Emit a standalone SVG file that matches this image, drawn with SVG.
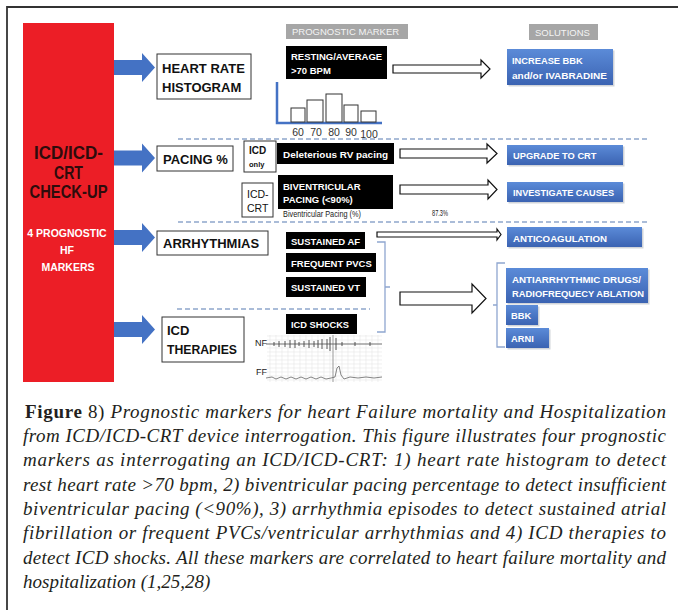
<svg xmlns="http://www.w3.org/2000/svg" width="678" height="610" viewBox="0 0 678 610">
<defs>
<linearGradient id="bg" x1="0" y1="0" x2="0" y2="1">
<stop offset="0" stop-color="#5b8bd8"/>
<stop offset="1" stop-color="#3b63b2"/>
</linearGradient>
<style>
.sans{font-family:"Liberation Sans",Arial,sans-serif}
.lbl{font-family:"Liberation Sans",Arial,sans-serif;font-weight:bold;font-size:13px;fill:#111}
.wb{font-family:"Liberation Sans",Arial,sans-serif;font-weight:bold;font-size:9.5px;fill:#fff}
.bt{font-family:"Liberation Sans",Arial,sans-serif;font-weight:bold;font-size:9.3px;fill:#fff}
.box{fill:#fff;stroke:#333;stroke-width:1}
.blk{fill:#000}
.blue{fill:url(#bg)}
.shadow{fill:#9aa0aa;opacity:0.45}
.hdr{fill:#a6a6a6}
.hdrt{font-family:"Liberation Sans",Arial,sans-serif;font-size:9.5px;fill:#f4f4f4}
.fat{fill:#4472c4}
.hol{fill:#fff;stroke:#111;stroke-width:1.2}
.dash{stroke:#8fa6cc;stroke-width:1.3;stroke-dasharray:5 3;fill:none}
.brk{stroke:#8fa6d0;stroke-width:1.3;fill:none}
.cap{font-family:"Liberation Serif","Times New Roman",serif;font-size:19px;font-style:italic;fill:#231f20}
.grid{stroke:#e6e6e6;stroke-width:0.6}
</style>
</defs>
<rect width="678" height="610" fill="#fff"/>
<!-- frame -->
<path d="M7,610 V7 H678" fill="none" stroke="#333" stroke-width="1.8"/>

<!-- left red node -->
<g id="checkup">
<rect x="23" y="23" width="91" height="359" fill="#ec1e26"/>
<g class="sans" font-weight="bold" font-size="19" fill="#2e0c0c" text-anchor="middle">
<text x="68.5" y="159" textLength="69" lengthAdjust="spacingAndGlyphs">ICD/ICD-</text>
<text x="68.5" y="178.5" textLength="29" lengthAdjust="spacingAndGlyphs">CRT</text>
<text x="68.5" y="198" textLength="78" lengthAdjust="spacingAndGlyphs">CHECK-UP</text>
</g>
<g class="sans" font-weight="bold" font-size="10.5" fill="#fff" text-anchor="middle">
<text x="67" y="237">4 PROGNOSTIC</text>
<text x="67" y="254">HF</text>
<text x="68" y="271">MARKERS</text>
</g>
</g>

<!-- headers -->
<g id="hdr-prognostic">
<rect class="hdr" x="286" y="24" width="122" height="15"/>
<text class="hdrt" x="292" y="35">PROGNOSTIC MARKER</text>
</g>
<g id="hdr-solutions">
<rect class="hdr" x="529" y="24" width="69" height="16"/>
<text class="hdrt" x="535" y="35.5">SOLUTIONS</text>
</g>

<!-- category nodes -->
<g id="heart-rate-histogram">
<rect class="box" x="157" y="54" width="94" height="45"/>
<text class="lbl" x="162" y="73">HEART RATE</text>
<text class="lbl" x="162" y="92">HISTOGRAM</text>
</g>
<g id="pacing">
<rect class="box" x="157" y="146" width="76" height="25"/>
<text class="lbl" x="163" y="163.5">PACING %</text>
</g>
<g id="arrhythmias">
<rect class="box" x="157" y="231" width="111" height="24"/>
<text class="lbl" x="163" y="248">ARRHYTHMIAS</text>
</g>
<g id="icd-therapies">
<rect class="box" x="162" y="317" width="82" height="45"/>
<text class="lbl" x="167" y="335">ICD</text>
<text class="lbl" x="167" y="354" textLength="70" lengthAdjust="spacingAndGlyphs">THERAPIES</text>
</g>

<!-- prognostic markers -->
<g id="resting">
<rect class="blk" x="286" y="46" width="101" height="33"/>
<text class="wb" x="291" y="60">RESTING/AVERAGE</text>
<text class="wb" x="291" y="74">&gt;70 BPM</text>
</g>
<g id="histogram">
<path d="M277,82 V123 H382" fill="none" stroke="#4472c4" stroke-width="2.5"/>
<g fill="#fff" stroke="#333" stroke-width="1">
<rect x="291" y="108" width="14" height="14"/>
<rect x="307" y="100" width="16" height="22"/>
<rect x="326" y="94" width="16" height="28"/>
<rect x="344" y="105" width="14" height="17"/>
<rect x="361" y="111" width="15" height="11"/>
</g>
<g class="sans" font-size="10.5" fill="#333" text-anchor="middle">
<text x="298" y="136">60</text>
<text x="316" y="136">70</text>
<text x="334" y="136">80</text>
<text x="351" y="136">90</text>
<text x="369" y="137.5">100</text>
</g>
</g>
<g id="icd-only">
<rect class="box" x="244" y="141" width="32" height="31"/>
<text class="sans" x="249" y="154" font-weight="bold" font-size="10" fill="#111">ICD</text>
<text class="sans" x="249" y="167" font-weight="bold" font-size="7.5" fill="#111">only</text>
</g>
<g id="deleterious">
<rect class="blk" x="277" y="143" width="117" height="21"/>
<text class="wb" x="283" y="157.5" font-size="10" textLength="105" lengthAdjust="spacingAndGlyphs">Deleterious RV pacing</text>
</g>
<g id="icd-crt">
<rect class="box" x="242" y="183" width="31" height="34"/>
<text class="sans" x="247" y="198" font-size="10.5" fill="#111">ICD-</text>
<text class="sans" x="247" y="212" font-size="10.5" fill="#111">CRT</text>
</g>
<g id="biv-pacing">
<rect class="blk" x="278" y="175" width="115" height="34"/>
<text class="wb" x="283" y="190">BIVENTRICULAR</text>
<text class="wb" x="283" y="202.5">PACING (&lt;90%)</text>
<text class="sans" x="283" y="217" font-size="9" fill="#222" textLength="78" lengthAdjust="spacingAndGlyphs">Biventricular Pacing (%)</text>
<text class="sans" x="432" y="215.5" font-size="9" fill="#222" textLength="16" lengthAdjust="spacingAndGlyphs">87.3%</text>
</g>
<g id="sustained-af">
<rect class="blk" x="286" y="232" width="79" height="17"/>
<text class="wb" x="291" y="245">SUSTAINED AF</text>
</g>
<g id="frequent-pvcs">
<rect class="blk" x="286" y="253" width="90" height="19"/>
<text class="wb" x="291" y="267">FREQUENT PVCS</text>
</g>
<g id="sustained-vt">
<rect class="blk" x="286" y="277" width="80" height="20"/>
<text class="wb" x="291" y="291">SUSTAINED VT</text>
</g>
<g id="icd-shocks">
<rect class="blk" x="286" y="314" width="71" height="20"/>
<text class="wb" x="291" y="328" textLength="58" lengthAdjust="spacingAndGlyphs">ICD SHOCKS</text>
</g>
<g id="ecg">
<g class="grid">
<path d="M267,336 H382 M267,340 H382 M267,344 H382 M267,348 H382 M267,352 H382 M267,356 H382 M267,360 H382 M267,364 H382 M267,368 H382 M267,372 H382 M267,376 H382 M267,380 H382"/>
<path d="M270,335 V382 M276,335 V382 M282,335 V382 M288,335 V382 M294,335 V382 M300,335 V382 M306,335 V382 M312,335 V382 M318,335 V382 M324,335 V382 M330,335 V382 M336,335 V382 M342,335 V382 M348,335 V382 M354,335 V382 M360,335 V382 M366,335 V382 M372,335 V382 M378,335 V382"/>
</g>
<path d="M333,335 V382" stroke="#999" stroke-width="1"/>
<text class="sans" x="255" y="346" font-size="9" fill="#222" text-anchor="start">NF</text>
<text class="sans" x="256" y="375" font-size="9" fill="#222">FF</text>
<path d="M266,344 H382" stroke="#555" stroke-width="0.8"/>
<path d="M274,342 V346 M279,341 V347 M285,341 V347 M290,340 V348 M295,340 V348 M299,342 V346 M304,341 V347 M309,340 V348 M314,341 V347 M318,340 V348 M322,339 V349 M327,339 V349 M330,337 V351 M336,338 V350 M342,342 V346 M355,342 V346 M370,342 V346" stroke="#444" stroke-width="0.9"/>
<path d="M266,378 L272,377 L276,379 L281,377 L286,379 L291,377 L296,379 L301,377 L306,379 L311,377 L316,379 L321,377 L326,379 L331,378 L335,377 L337,368 L339,366 L341,375 L344,379 L350,377 L358,378 L366,377 L374,378 L382,377" fill="none" stroke="#666" stroke-width="0.8"/>
</g>

<!-- solutions -->
<g id="increase-bbk">
<rect class="shadow" x="508.5" y="50.5" width="106" height="36"/>
<rect class="blue" x="507" y="49" width="106" height="36"/>
<text class="bt" x="512" y="64">INCREASE BBK</text>
<text class="bt" x="512" y="79" textLength="95" lengthAdjust="spacingAndGlyphs">and/or IVABRADINE</text>
</g>
<g id="upgrade-crt">
<rect class="shadow" x="508.5" y="146.5" width="116" height="20"/>
<rect class="blue" x="507" y="145" width="116" height="20"/>
<text class="bt" x="513" y="159">UPGRADE TO CRT</text>
</g>
<g id="investigate">
<rect class="shadow" x="508.5" y="183.5" width="116" height="20"/>
<rect class="blue" x="507" y="182" width="116" height="20"/>
<text class="bt" x="513" y="196" textLength="101" lengthAdjust="spacingAndGlyphs">INVESTIGATE CAUSES</text>
</g>
<g id="anticoagulation">
<rect class="shadow" x="508.5" y="228.5" width="135" height="20"/>
<rect class="blue" x="507" y="227" width="135" height="20"/>
<text class="bt" x="513" y="241.5" textLength="94" lengthAdjust="spacingAndGlyphs">ANTICOAGULATION</text>
</g>
<g id="antiarrhythmic">
<rect class="shadow" x="507.5" y="269.5" width="142" height="35"/>
<rect class="blue" x="506" y="268" width="142" height="35"/>
<text class="bt" x="512" y="283" textLength="129" lengthAdjust="spacingAndGlyphs">ANTIARRHYTHMIC DRUGS/</text>
<text class="bt" x="512" y="297" textLength="132" lengthAdjust="spacingAndGlyphs">RADIOFREQUECY ABLATION</text>
</g>
<g id="bbk">
<rect class="shadow" x="507.5" y="306.5" width="32" height="20"/>
<rect class="blue" x="506" y="305" width="32" height="20"/>
<text class="bt" x="511" y="319">BBK</text>
</g>
<g id="arni">
<rect class="shadow" x="507.5" y="329.5" width="43" height="20"/>
<rect class="blue" x="506" y="328" width="43" height="20"/>
<text class="bt" x="511" y="342">ARNI</text>
</g>

<!-- connectors -->
<g id="connectors">
<polygon class="fat" points="114,60 142,60 142,53 155,67.5 142,82 142,75 114,75"/>
<polygon class="fat" points="114,150.5 142,150.5 142,143.5 155,158 142,172.5 142,165.5 114,165.5"/>
<polygon class="fat" points="114,230 142,230 142,223 155,237.5 142,252 142,245 114,245"/>
<polygon class="fat" points="114,322 142,322 142,315 155,329.5 142,344 142,337 114,337"/>
<polygon class="hol" points="393,65 481,65 481,60 490,69 481,78 481,73 393,73"/>
<polygon class="hol" points="400,149 487,149 487,144 497,153.5 487,163 487,158 400,158"/>
<polygon class="hol" points="400,185 488,185 488,180 497,189.5 488,199 488,194 400,194"/>
<polygon class="hol" points="377,232 497,232 497,229 501,234.5 497,240 497,237 377,237"/>
<polygon class="hol" points="400,292 472,292 472,284 486,298.5 472,313 472,305 400,305"/>
<path class="dash" d="M178,139 H648"/>
<path class="dash" d="M178,222 H648"/>
<path class="dash" d="M177,309 H370"/>
<path class="brk" d="M377,242 H385 V287 H390 M385,287 V332 H377"/>
<path class="brk" d="M505,263 H497 V305 H493 M497,305 V347 H505"/>
</g>

<!-- caption -->
<g id="caption">
<text class="cap" x="25" y="418" textLength="641" lengthAdjust="spacing"><tspan font-style="normal" font-weight="bold">Figure</tspan><tspan font-style="normal"> 8)</tspan> Prognostic markers for heart Failure mortality and Hospitalization</text>
<text class="cap" x="23" y="442" textLength="643" lengthAdjust="spacing">from ICD/ICD-CRT device interrogation. This figure illustrates four prognostic</text>
<text class="cap" x="23" y="466.3" textLength="643" lengthAdjust="spacing">markers as interrogating an ICD/ICD-CRT: 1) heart rate histogram to detect</text>
<text class="cap" x="23" y="490.6" textLength="643" lengthAdjust="spacing">rest heart rate &gt;70 bpm, 2) biventricular pacing percentage to detect insufficient</text>
<text class="cap" x="23" y="514.9" textLength="643" lengthAdjust="spacing">biventricular pacing (&lt;90%), 3) arrhythmia episodes to detect sustained atrial</text>
<text class="cap" x="23" y="539.2" textLength="643" lengthAdjust="spacing">fibrillation or frequent PVCs/ventricular arrhythmias and 4) ICD therapies to</text>
<text class="cap" x="23" y="563.5" textLength="643" lengthAdjust="spacing">detect ICD shocks. All these markers are correlated to heart failure mortality and</text>
<text class="cap" x="23" y="587.8">hospitalization (1,25,28)</text>
</g>
</svg>
